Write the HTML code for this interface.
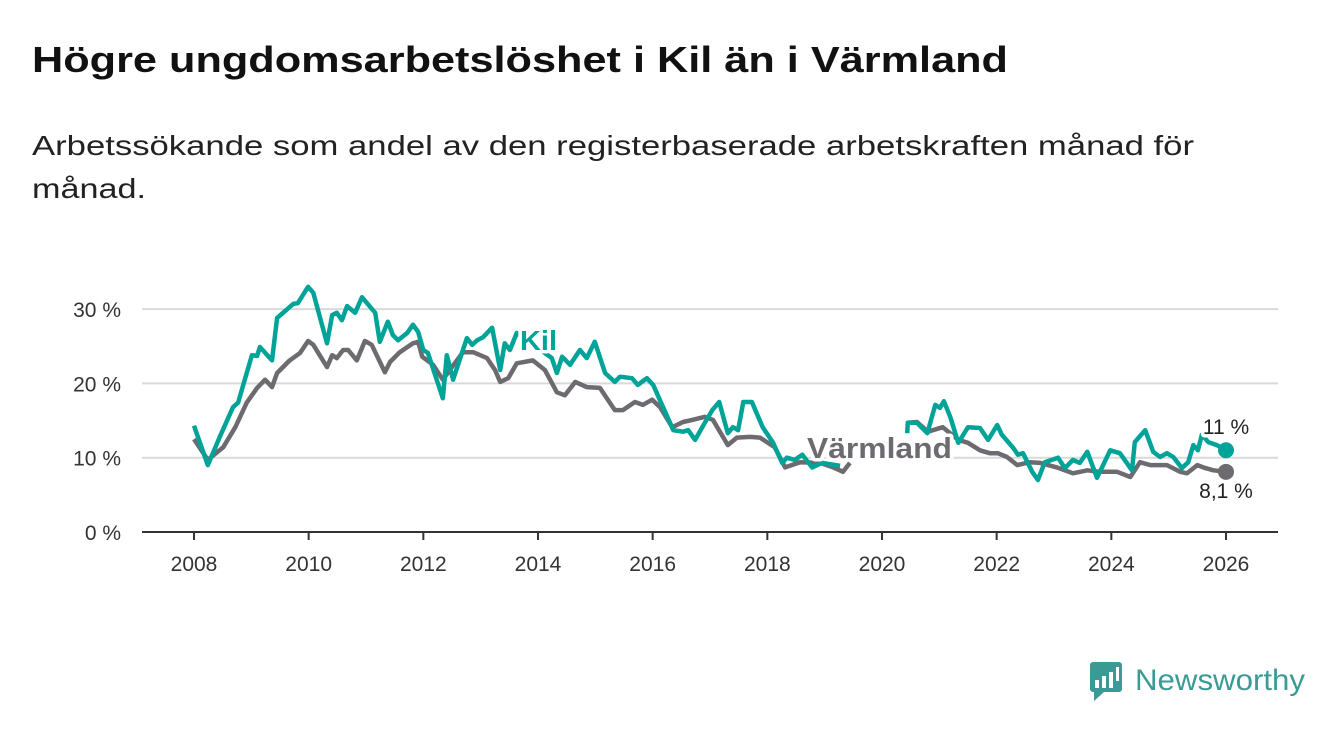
<!DOCTYPE html>
<html><head><meta charset="utf-8">
<style>
html,body{margin:0;padding:0;background:#fff;}
svg{display:block;font-family:"Liberation Sans",sans-serif;}
</style></head>
<body>
<svg id="chart" width="1340" height="734" viewBox="0 0 1340 734">
<text x="32" y="72" font-size="36" font-weight="bold" fill="#111" textLength="976" lengthAdjust="spacingAndGlyphs">Högre ungdomsarbetslöshet i Kil än i Värmland</text>
<text x="32" y="155" font-size="28" fill="#222" textLength="1162" lengthAdjust="spacingAndGlyphs">Arbetssökande som andel av den registerbaserade arbetskraften månad för</text>
<text x="32" y="198" font-size="28" fill="#222" textLength="114" lengthAdjust="spacingAndGlyphs">månad.</text>
<g id="grid"></g>
<g id="series"></g>
<g id="labels"></g>
<g>
<rect x="1090" y="662" width="32" height="30" rx="3" fill="#3a9a95"/>
<polygon points="1094,692 1104,692 1094,701" fill="#3a9a95"/>
<rect x="1095" y="680" width="4" height="8" fill="#fff"/><rect x="1102" y="676" width="4" height="12" fill="#fff"/><rect x="1109" y="672" width="4" height="16" fill="#fff"/><rect x="1116" y="667" width="3" height="14" fill="#fff"/>
<text x="1135" y="690" font-size="30" fill="#3a9a95" textLength="170" lengthAdjust="spacingAndGlyphs">Newsworthy</text>
</g>
</svg>
<script>
const yTicks=[0,10,20,30];
const yTickLabels=["0 %","10 %","20 %","30 %"];
const xTicks=[2008,2010,2012,2014,2016,2018,2020,2022,2024,2026];
const kilDates=[2008.0,2008.24,2008.45,2008.68,2008.77,2009.01,2009.10,2009.15,2009.36,2009.45,2009.73,2009.81,2009.99,2010.08,2010.32,2010.41,2010.49,2010.58,2010.67,2010.81,2010.93,2011.16,2011.24,2011.38,2011.47,2011.56,2011.72,2011.82,2011.91,2012.00,2012.08,2012.34,2012.41,2012.52,2012.76,2012.85,2012.94,2013.04,2013.20,2013.34,2013.42,2013.51,2013.63,2014.24,2014.33,2014.42,2014.56,2014.73,2014.85,2014.99,2015.17,2015.34,2015.43,2015.64,2015.74,2015.90,2016.01,2016.36,2016.53,2016.62,2016.74,2016.91,2017.04,2017.16,2017.31,2017.40,2017.49,2017.58,2017.73,2017.92,2018.10,2018.26,2018.34,2018.48,2018.61,2018.78,2018.95,2019.27,2019.8,2020.44,2020.45,2020.61,2020.79,2020.93,2021.01,2021.08,2021.19,2021.33,2021.50,2021.71,2021.85,2022.01,2022.09,2022.29,2022.37,2022.46,2022.62,2022.72,2022.84,2023.07,2023.19,2023.33,2023.45,2023.58,2023.75,2023.98,2024.15,2024.36,2024.41,2024.59,2024.73,2024.85,2024.97,2025.08,2025.23,2025.34,2025.43,2025.51,2025.58,2025.69,2025.84,2026.0];
const kilValues=[14.3,9.0,12.8,16.8,17.4,23.8,23.7,24.9,23.1,28.8,30.7,30.8,33.0,32.2,25.4,29.2,29.5,28.5,30.4,29.5,31.6,29.5,25.6,28.3,26.5,25.8,26.8,27.9,26.9,24.5,24.1,18.0,23.8,20.5,26.1,25.2,25.8,26.2,27.5,21.8,25.4,24.5,26.8,23.4,21.4,23.6,22.5,24.5,23.4,25.6,21.4,20.2,20.9,20.7,19.8,20.7,19.8,13.7,13.5,13.7,12.4,14.7,16.4,17.5,13.3,14.1,13.7,17.5,17.5,14.1,12.0,9.3,10.0,9.7,10.4,8.7,9.3,8.9,null,13.3,14.7,14.7,13.3,17.1,16.7,17.6,15.5,12.0,14.1,14.0,12.4,14.4,13.1,11.3,10.4,10.6,8.1,7.0,9.4,10.0,8.6,9.7,9.3,10.8,7.3,11.0,10.6,8.3,12.1,13.7,10.8,10.1,10.6,10.1,8.6,9.4,11.7,11.0,13.1,12.1,11.7,11.0];
const varDates=[2008.0,2008.24,2008.51,2008.72,2008.92,2009.10,2009.24,2009.36,2009.45,2009.67,2009.85,2009.99,2010.08,2010.32,2010.41,2010.49,2010.60,2010.69,2010.84,2010.98,2011.10,2011.33,2011.42,2011.59,2011.82,2011.91,2011.98,2012.17,2012.34,2012.50,2012.69,2012.87,2013.11,2013.25,2013.34,2013.48,2013.63,2013.91,2014.12,2014.33,2014.47,2014.65,2014.85,2015.08,2015.34,2015.48,2015.69,2015.83,2015.99,2016.13,2016.34,2016.53,2016.70,2016.91,2017.05,2017.31,2017.47,2017.70,2017.87,2018.13,2018.31,2018.57,2018.92,2019.15,2019.32,2019.44,2019.8,2020.44,2020.61,2020.80,2021.06,2021.33,2021.50,2021.71,2021.88,2022.02,2022.18,2022.36,2022.58,2022.76,2023.05,2023.33,2023.58,2023.80,2024.10,2024.33,2024.50,2024.68,2024.97,2025.20,2025.32,2025.50,2025.64,2025.78,2026.0];
const varValues=[12.5,9.7,11.4,14.1,17.4,19.4,20.5,19.5,21.4,23.1,24.1,25.7,25.2,22.2,23.8,23.4,24.5,24.5,23.1,25.7,25.2,21.5,22.9,24.2,25.4,25.6,23.6,22.5,20.5,22.2,24.2,24.2,23.4,21.8,20.2,20.7,22.7,23.1,21.8,18.8,18.4,20.2,19.5,19.4,16.4,16.4,17.5,17.1,17.8,16.8,14.1,14.8,15.1,15.5,15.1,11.7,12.7,12.8,12.7,11.4,8.7,9.4,9.3,8.7,8.1,9.3,null,14.7,14.8,13.5,14.1,12.4,12.0,11.0,10.6,10.6,10.1,9.0,9.4,9.3,8.7,7.9,8.3,8.1,8.1,7.4,9.4,9.0,9.0,8.1,7.9,9.0,8.6,8.3,8.1];

const NS="http://www.w3.org/2000/svg";
const X0=194,X1=1226,Y0=532,YPER=7.43;
function xs(y){return X0+(y-2008)*(X1-X0)/18;}
function ys(v){return Y0-v*YPER;}
function mk(tag,attrs,parent){const e=document.createElementNS(NS,tag);for(const k in attrs)e.setAttribute(k,attrs[k]);parent.appendChild(e);return e;}
const grid=document.getElementById('grid');
yTicks.forEach((t,i)=>{
  if(t>0){const l=mk('line',{x1:142,x2:1278,y1:ys(t),y2:ys(t),stroke:'#d9d9d9','stroke-width':2},grid);
  
  }
  const tx=mk('text',{x:121,y:ys(t)+8,'font-size':21,'text-anchor':'end',fill:'#333'},grid);
  tx.textContent=yTickLabels[i];
  
  
});
const ax=mk('line',{x1:142,x2:1278,y1:Y0,y2:Y0,stroke:'#333','stroke-width':2},grid);


xTicks.forEach(t=>{
  const tk=mk('line',{x1:xs(t),x2:xs(t),y1:Y0,y2:Y0+8,stroke:'#333','stroke-width':2},grid);
  
  
  const tx=mk('text',{x:xs(t),y:571,'font-size':21,'text-anchor':'middle',fill:'#333'},grid);
  tx.textContent=t;
  
  
});
const ser=document.getElementById('series');
function path(d,v){let s='',pen=false;d.forEach((x,i)=>{if(v[i]==null){pen=false;return;}s+=(pen?'L':'M')+xs(x).toFixed(1)+','+ys(v[i]).toFixed(1);pen=true;});return s;}
const pv=mk('path',{d:path(varDates,varValues),fill:'none',stroke:'#6e6b70','stroke-width':4.5,'stroke-linejoin':'round'},ser);


const pk=mk('path',{d:path(kilDates,kilValues),fill:'none',stroke:'#00a398','stroke-width':4.5,'stroke-linejoin':'round'},ser);


const dv=mk('circle',{cx:xs(varDates[varDates.length-1]),cy:ys(varValues[varValues.length-1]),r:8,fill:'#6e6b70'},ser);


const dk=mk('circle',{cx:xs(kilDates[kilDates.length-1]),cy:ys(kilValues[kilValues.length-1]),r:8,fill:'#00a398'},ser);


const lab=document.getElementById('labels');
function label(txt,x,y,size,fill,bold,anchor,name,len){
  const t=mk('text',{x:x,y:y,'font-size':size,fill:fill,'font-weight':bold?'bold':'normal','text-anchor':anchor,stroke:'#fff','stroke-width':7,'paint-order':'stroke','stroke-linejoin':'round'},lab);
  if(len){t.setAttribute('textLength',len);t.setAttribute('lengthAdjust','spacingAndGlyphs');}
  t.textContent=txt;
  
  
}
label('Kil',520,350,28,'#00a398',true,'start','kil-series-label',37);
label('Värmland',807,458,29,'#6e6b70',true,'start','varmland-series-label',145);
label('11 %',1226,434,21,'#222',false,'middle','kil-end-value');
label('8,1 %',1226,498,21,'#222',false,'middle','varmland-end-value');
</script>
</body></html>
